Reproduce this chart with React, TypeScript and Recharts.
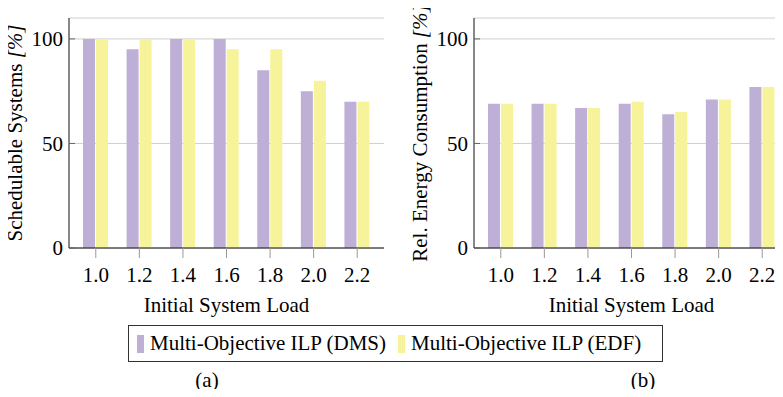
import React from "react";
import { BarChart, Bar, XAxis, YAxis, CartesianGrid, Legend, Label } from "recharts";

// x categories (initial system load)
const loads = ["1.0", "1.2", "1.4", "1.6", "1.8", "2.0", "2.2"];

// (a) schedulable systems [%]
const schedDMS = [100, 95, 100, 100, 85, 75, 70];
const schedEDF = [100, 100, 100, 95, 95, 80, 70];

// (b) relative energy consumption [%]
const energyDMS = [69, 69, 67, 69, 64, 71, 77];
const energyEDF = [69, 69, 67, 70, 65, 71, 77];

const yTicks = [0, 50, 100];
const seriesNames = ["Multi-Objective ILP (DMS)", "Multi-Objective ILP (EDF)"];

const FONT = "Liberation Serif";
const COLORS = ["#bdafd5", "#f6f39b"];
const FS = 21;

const schedData = loads.map((load, i) => ({ load, dms: schedDMS[i], edf: schedEDF[i] }));
const energyData = loads.map((load, i) => ({ load, dms: energyDMS[i], edf: energyEDF[i] }));

const css = `
.fig, .fig * { font-family: "Liberation Serif" !important; }
.fig text { font-size: ${FS}px; }
`;

function YTick({ x, y, payload }: any) {
  return (
    <g>
      <line x1={x + 6} x2={x + 12} y1={y} y2={y} stroke="#666" />
      <text x={x} y={y} dy="0.355em" textAnchor="end" fontSize={FS} fill="#000">
        {payload.value}
      </text>
    </g>
  );
}

function YTitle({ cx, cy, text }: { cx: number; cy: number; text: string }) {
  return (
    <text
      x={cx}
      y={cy}
      transform={`rotate(-90 ${cx} ${cy})`}
      textAnchor="middle"
      dominantBaseline="central"
      fontSize={FS}
      fill="#000"
    >
      {text + " "}
      <tspan fontStyle="italic">[%]</tspan>
    </text>
  );
}

function LegendBox() {
  return (
    <div
      style={{
        border: "1px solid #333",
        width: 535,
        height: 37,
        boxSizing: "border-box",
        display: "flex",
        alignItems: "center",
        paddingLeft: 8,
        fontSize: FS,
        whiteSpace: "nowrap",
        color: "#000",
      }}
    >
      {seriesNames.map((n, i) => (
        <span key={n} style={{ display: "flex", alignItems: "center", marginRight: 12 }}>
          <span style={{ width: 7, height: 18, background: COLORS[i], marginRight: 6 }} />
          {n}
        </span>
      ))}
    </div>
  );
}

function Panel({
  data,
  yTitle,
  yAxisWidth,
  marginRight,
  titleX,
  legend,
}: {
  data: any[];
  yTitle: string;
  yAxisWidth: number;
  marginRight: number;
  titleX: number;
  legend?: boolean;
}) {
  return (
    <BarChart
      width={400}
      height={397}
      data={data}
      margin={{ top: 18, right: marginRight, bottom: 85, left: 0 }}
      barSize={12}
      barGap={1}
    >
      <CartesianGrid vertical={false} stroke="#cfcfcf" />
      <XAxis
        dataKey="load"
        padding={{ left: 5, right: 5 }}
        height={64}
        tickSize={10}
        tickMargin={9}
        axisLine={{ stroke: "#111" }}
        tickLine={{ stroke: "#999" }}
        tick={{ fontSize: FS, fill: "#000" }}
      >
        <Label value="Initial System Load" position="insideBottom" offset={0} fontSize={FS} fill="#000" />
      </XAxis>
      <XAxis
        xAxisId="top"
        orientation="top"
        dataKey="load"
        padding={{ left: 5, right: 5 }}
        height={0}
        tickSize={12}
        axisLine={{ stroke: "#111" }}
        tickLine={{ stroke: "#999" }}
        tickFormatter={() => ""}
      />
      <YAxis
        domain={[0, 110]}
        ticks={yTicks}
        width={yAxisWidth}
        tickSize={0}
        tickMargin={6}
        tickLine={false}
        axisLine={{ stroke: "#111" }}
        tick={<YTick />}
      >
        <Label content={() => <YTitle cx={titleX} cy={133} text={yTitle} />} />
      </YAxis>
      <YAxis
        yAxisId="right"
        orientation="right"
        mirror
        width={0}
        domain={[0, 110]}
        ticks={yTicks}
        tickSize={6}
        axisLine={{ stroke: "#111" }}
        tickLine={{ stroke: "#666" }}
        tickFormatter={() => ""}
      />
      <Bar dataKey="dms" name={seriesNames[0]} fill={COLORS[0]} isAnimationActive={false} />
      <Bar dataKey="edf" name={seriesNames[1]} fill={COLORS[1]} isAnimationActive={false} />
      {legend && (
        <Legend
          verticalAlign="middle"
          align="center"
          width={535}
          height={37}
          wrapperStyle={{ left: 128, top: 325, width: 535, height: 37 }}
          content={<LegendBox />}
        />
      )}
    </BarChart>
  );
}

const captionStyle: React.CSSProperties = {
  position: "absolute",
  top: 368,
  width: 60,
  height: 24,
  lineHeight: "24px",
  textAlign: "center",
  fontSize: FS,
};

export default function App() {
  return (
    <div
      className="fig"
      style={{
        position: "relative",
        width: 783,
        height: 397,
        margin: -8,
        overflow: "hidden",
        background: "#fff",
      }}
    >
      <style>{css}</style>
      <div style={{ position: "absolute", left: 0, top: 0 }}>
        <Panel data={schedData} yTitle="Schedulable Systems" yAxisWidth={69} marginRight={16} titleX={15} legend />
      </div>
      <div style={{ position: "absolute", left: 400, top: 0 }}>
        <Panel data={energyData} yTitle="Rel. Energy Consumption" yAxisWidth={74} marginRight={11} titleX={20} />
      </div>
      <div style={{ ...captionStyle, left: 177 }}>(a)</div>
      <div style={{ ...captionStyle, left: 613 }}>(b)</div>
    </div>
  );
}
